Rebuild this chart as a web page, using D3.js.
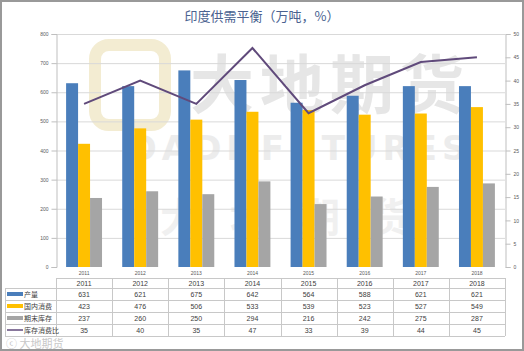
<!DOCTYPE html>
<html><head><meta charset="utf-8">
<script src="https://cdn.jsdelivr.net/npm/d3@7"></script>
<style>body{margin:0;background:#fff}svg{display:block}</style>
</head><body>
<script>
const years = ["2011","2012","2013","2014","2015","2016","2017","2018"];
const production = [631,621,675,642,564,588,621,621];
const consumption = [423,476,506,533,539,523,527,549];
const endStock = [237,260,250,294,216,242,275,287];
const stockRatio = [35,40,35,47,33,39,44,45];
const seriesNames = ["产量","国内消费","期末库存","库存消费比"];
const leftTicks = [0,100,200,300,400,500,600,700,800];
const rightTicks = [0,5,10,15,20,25,30,35,40,45,50];
const colors = ["#4A7EBB","#FFC000","#A5A5A5","#604A7B"];

const W=524,H=351;
const svg=d3.select("body").append("svg").attr("width",W).attr("height",H);
svg.append("rect").attr("x",1).attr("y",1).attr("width",W-2).attr("height",H-2).attr("fill","#fff").attr("stroke","#999").attr("stroke-width",2);

const L=56,R=505,T=34,B=267;
const x=d3.scaleBand().domain(years).range([L,R]).paddingInner(0.36).paddingOuter(0.18);
const xc=d3.scaleBand().domain(years).range([L,R]);
const xs=d3.scaleBand().domain([0,1,2]).range([0,x.bandwidth()]);
const y=d3.scaleLinear().domain([0,800]).range([B,T]);
const y2=d3.scaleLinear().domain([0,50]).range([B,T]);

// title
svg.append("text").attr("x",262).attr("y",21).attr("text-anchor","middle")
  .attr("font-family","Noto Sans CJK SC").attr("font-size",13).attr("fill","#4A6290")
  .text("印度供需平衡（万吨，%）");

// watermark
const wm=svg.append("g").attr("font-family","Noto Sans CJK SC").attr("font-weight","bold");
wm.append("rect").attr("x",95).attr("y",45).attr("width",70).attr("height",80).attr("rx",14)
  .attr("fill","none").attr("stroke","#f3ecd2").attr("stroke-width",12);
wm.append("text").attr("x",330).attr("y",108).attr("text-anchor","middle").attr("font-size",64)
  .attr("fill","#e6e6e6").attr("letter-spacing",6).text("大地期货");
wm.append("text").attr("x",300).attr("y",160).attr("text-anchor","middle").attr("font-size",34)
  .attr("fill","#ececec").attr("font-family","DejaVu Sans").attr("letter-spacing",5).text("DADI FUTURES");
wm.append("text").attr("x",300).attr("y",232).attr("text-anchor","middle").attr("font-size",40)
  .attr("fill","#f0f0f0").attr("letter-spacing",30).text("大地期货");

// gridlines
svg.append("g").selectAll("line").data(leftTicks.slice(1)).join("line")
  .attr("x1",L).attr("x2",R).attr("y1",d=>y(d)+0.5).attr("y2",d=>y(d)+0.5)
  .attr("stroke","#d9d9d9").attr("stroke-width",1);

// left axis
const ga=svg.append("g").attr("transform",`translate(${L+0.5},0)`)
  .call(d3.axisLeft(y).tickValues(leftTicks).tickSize(5).tickPadding(3));
ga.selectAll("text").attr("font-size",5).attr("fill","#595959").attr("font-family","Liberation Sans");
ga.selectAll("line,path").attr("stroke","#bfbfbf");
// right axis
const gr=svg.append("g").attr("transform",`translate(${R+0.5},0)`)
  .call(d3.axisRight(y2).tickValues(rightTicks).tickSize(5).tickPadding(3));
gr.selectAll("text").attr("font-size",5).attr("fill","#595959").attr("font-family","Liberation Sans");
gr.selectAll("line,path").attr("stroke","#bfbfbf");

// bars
const barSeries=[production,consumption,endStock];
barSeries.forEach((vals,si)=>{
  svg.append("g").selectAll("rect").data(vals).join("rect")
    .attr("x",(d,i)=>x(years[i])+xs(si)).attr("width",xs.bandwidth())
    .attr("y",d=>y(d)).attr("height",d=>B-y(d)).attr("fill",colors[si]);
});

// line
const line=d3.line().x((d,i)=>xc(years[i])+xc.bandwidth()/2).y(d=>y2(d));
svg.append("path").datum(stockRatio).attr("d",line).attr("fill","none")
  .attr("stroke",colors[3]).attr("stroke-width",2);

// category labels under axis
svg.append("g").selectAll("text").data(years).join("text")
  .attr("x",d=>xc(d)+xc.bandwidth()/2).attr("y",275).attr("text-anchor","middle")
  .attr("font-size",5).attr("fill","#595959").attr("font-family","Liberation Sans").text(d=>d);

// table
const tT=278,hB=288,rh=12,tL=5;
const tg=svg.append("g");
const gridC="#c8c8c8";
tg.append("line").attr("x1",L).attr("x2",R).attr("y1",tT+0.5).attr("y2",tT+0.5).attr("stroke",gridC);
for(let r=0;r<=4;r++){
  const yy=hB+r*rh+0.5;
  tg.append("line").attr("x1",tL).attr("x2",R).attr("y1",yy).attr("y2",yy).attr("stroke",gridC);
}
tg.append("line").attr("x1",tL+0.5).attr("x2",tL+0.5).attr("y1",hB).attr("y2",hB+4*rh).attr("stroke",gridC);
years.forEach(yr=>{
  const xx=Math.round(xc(yr))+0.5;
  tg.append("line").attr("x1",xx).attr("x2",xx).attr("y1",tT).attr("y2",hB+4*rh).attr("stroke",gridC);
});
tg.append("line").attr("x1",R+0.5).attr("x2",R+0.5).attr("y1",tT).attr("y2",hB+4*rh).attr("stroke",gridC);
tg.selectAll("text.h").data(years).join("text").attr("class","h")
  .attr("x",d=>xc(d)+xc.bandwidth()/2).attr("y",hB-2.5).attr("text-anchor","middle")
  .attr("font-size",7).attr("fill","#404040").attr("font-family","Liberation Sans").text(d=>d);
const allSeries=[production,consumption,endStock,stockRatio];
allSeries.forEach((vals,si)=>{
  const cy=hB+si*rh+rh/2;
  tg.append("g").selectAll("text").data(vals).join("text")
    .attr("x",(d,i)=>xc(years[i])+xc.bandwidth()/2).attr("y",cy+2.5).attr("text-anchor","middle")
    .attr("font-size",7).attr("fill","#404040").attr("font-family","Liberation Sans").text(d=>d);
  if(si<3){
    tg.append("rect").attr("x",7).attr("y",cy-2).attr("width",16).attr("height",4).attr("fill",colors[si]);
  } else {
    tg.append("line").attr("x1",7).attr("x2",23).attr("y1",cy).attr("y2",cy).attr("stroke",colors[si]).attr("stroke-width",1.5);
  }
  tg.append("text").attr("x",24).attr("y",cy+2.5).attr("font-size",7).attr("fill","#404040")
    .attr("font-family","Noto Sans CJK SC").text(seriesNames[si]);
});

// bottom-left watermark
svg.append("text").attr("x",6).attr("y",348).attr("font-size",11).attr("fill","#c8c8c8")
  .attr("font-family","Noto Sans CJK SC").text("ⓒ  大地期货");
</script>
</body></html>
